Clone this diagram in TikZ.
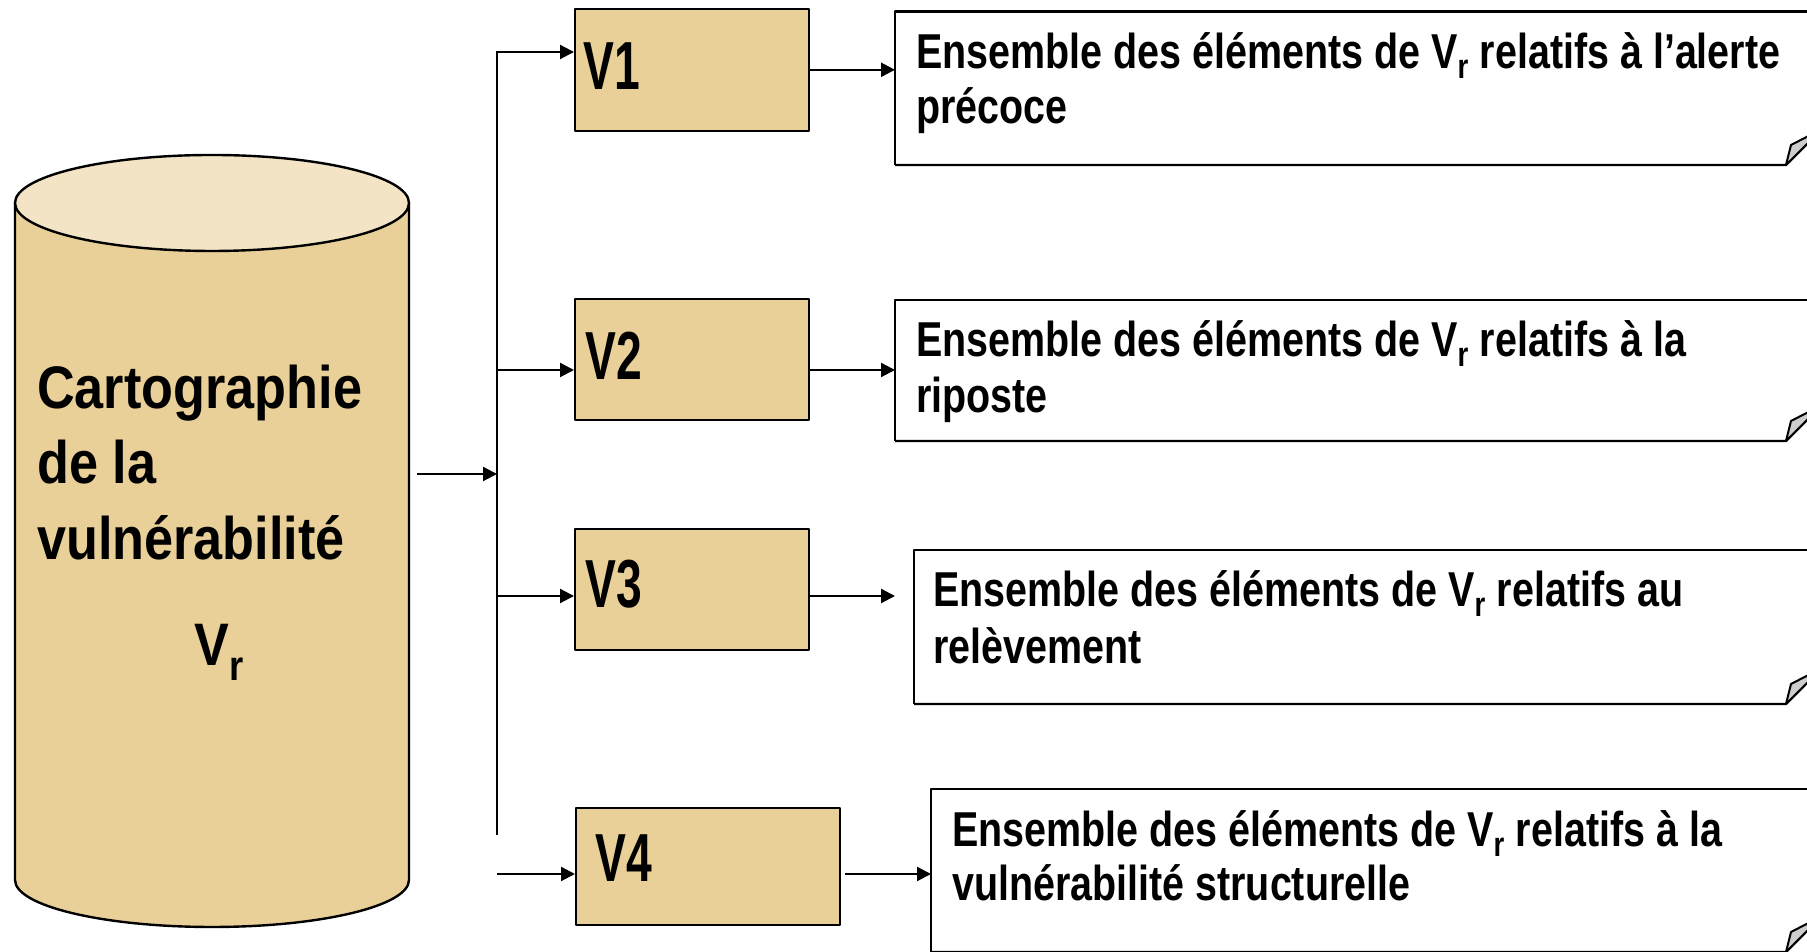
\documentclass[tikz,border=0pt]{standalone}
\usepackage{fontspec}
\setmainfont{Liberation Sans}[FakeStretch=0.805]
\newfontfamily\cylfont{Liberation Sans}[FakeStretch=0.87]
\newfontfamily\vfont{Liberation Sans}[FakeStretch=0.68]
\usetikzlibrary{arrows.meta}
\definecolor{papyrus}{RGB}{233,208,152}
\definecolor{papyruslight}{RGB}{242,228,196}
\definecolor{foldgray}{RGB}{205,205,205}
\tikzset{
  outline/.style={draw=black, line width=2.4pt, line join=round},
  vbox/.style={outline, fill=papyrus, inner sep=0pt, anchor=south west},
  vlabel/.style={anchor=base west, inner sep=0pt, font=\vfont\bfseries\fontsize{68}{68}\selectfont},
  cyltext/.style={anchor=base west, inner sep=0pt, font=\cylfont\bfseries\fontsize{60}{60}\selectfont},
  notetext/.style={anchor=base west, inner sep=0pt, font=\bfseries\fontsize{49}{56}\selectfont},
  notearea/.style={inner sep=0pt, anchor=north west},
  arr/.style={line width=2.2pt, -{Triangle[length=14pt,width=14pt]}},
  fold/.style={outline, line width=2pt, fill=foldgray},
}
% note sheet: left x, top y, bottom y; the lower right corner is folded over
\newcommand{\foldednote}[3]{%
  \draw[outline] (#1,#3) -- (#1,#2) -- (1840,#2);
  \draw[outline] (#1,#3) -- (1786,#3) -- (1822,#3+36);
  \filldraw[fold] (1786,#3) -- (1791,#3+20) -- (1822,#3+36) -- cycle;
}
\begin{document}
\begin{tikzpicture}[x=1pt,y=1pt]
\useasboundingbox (0,0) rectangle (1807,952);
\fill[white] (0,0) rectangle (1807,952);

% database cylinder
\draw[outline, fill=papyrus] (15,749) -- (15,72)
  arc[start angle=180, end angle=360, x radius=197, y radius=47] -- (409,749) -- cycle;
\draw[outline, fill=papyruslight] (212,749) ellipse [x radius=197, y radius=48];
\node[cyltext] (c1) at (37,543) {Cartographie};
\node[cyltext] (c2) at (37,468) {de la};
\node[cyltext] (c3) at (37,392) {vulnérabilité};
\node[cyltext] (c4) at (194,286) {V\textsubscript{r}};

% V boxes
\node[vbox, minimum width=234pt, minimum height=122pt] (v1) at (574,820) {};
\node[vbox, minimum width=234pt, minimum height=121pt] (v2) at (574,531) {};
\node[vbox, minimum width=234pt, minimum height=121pt] (v3) at (574,301) {};
\node[vbox, minimum width=264pt, minimum height=117pt] (v4) at (575,26) {};
\node[vlabel] (v1t) at (583,862) {V1};
\node[vlabel] (v2t) at (585,572) {V2};
\node[vlabel] (v3t) at (585,344) {V3};
\node[vlabel] (v4t) at (595,70) {V4};

% note sheets
\foldednote{895}{940.5}{787}
\foldednote{895}{652}{511}
\foldednote{914}{402}{248}
\foldednote{931}{163}{0}
\node[notearea, minimum width=927pt, minimum height=153.5pt] (n1) at (895,940.5) {};
\node[notearea, minimum width=927pt, minimum height=141pt] (n2) at (895,652) {};
\node[notearea, minimum width=908pt, minimum height=154pt] (n3) at (914,402) {};
\node[notearea, minimum width=891pt, minimum height=163pt] (n4) at (931,163) {};

\node[notetext] (n1a) at (916,883) {Ensemble des éléments de V\textsubscript{r} relatifs à l’alerte};
\node[notetext] (n1b) at (916,828) {précoce};
\node[notetext] (n2a) at (916,595) {Ensemble des éléments de V\textsubscript{r} relatifs à la};
\node[notetext] (n2b) at (916,539) {riposte};
\node[notetext] (n3a) at (933,345) {Ensemble des éléments de V\textsubscript{r} relatifs au};
\node[notetext] (n3b) at (933,288) {relèvement};
\node[notetext] (n4a) at (952,105) {Ensemble des éléments de V\textsubscript{r} relatifs à la};
\node[notetext] (n4b) at (952,51) {vulnérabilité structurelle};

% distribution bus
\coordinate (cylout) at (417,478);
\coordinate (busin) at (497,478);
\coordinate (bustop) at (497,900);
\coordinate (busbot) at (497,117);
\coordinate (bus2) at (497,582);
\coordinate (bus3) at (497,356);
\coordinate (v4in) at (497,78);

\draw[arr] (cylout) -- (busin);
\draw[arr] (busbot) -- (bustop) -- (v1.west |- bustop);
\draw[arr] (bus2) -- (v2.west |- bus2);
\draw[arr] (bus3) -- (v3.west |- bus3);
\draw[arr] (v4in) -- (v4.west |- v4in);

% V boxes to notes
\draw[arr] (v1.east) -- (n1.west |- v1.east);
\draw[arr] (v2.east |- bus2) -- (n2.west |- bus2);
\draw[arr, shorten >=19pt] (v3.east |- bus3) -- (n3.west |- bus3);
\draw[arr, shorten <=4pt] (v4.east |- v4in) -- (n4.west |- v4in);
\end{tikzpicture}
\end{document}
